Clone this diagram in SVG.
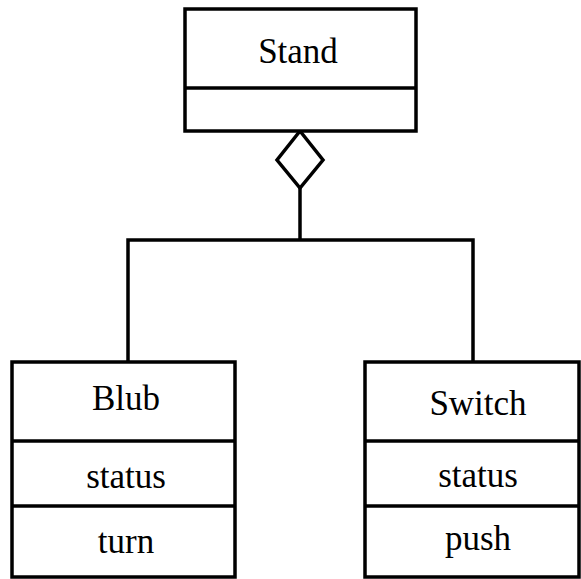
<svg xmlns="http://www.w3.org/2000/svg" width="581" height="579" viewBox="0 0 581 579">
<style>
.box{fill:#fff;stroke:#000;stroke-width:3.5}
.ln{fill:none;stroke:#000;stroke-width:3.5}
.t{font-family:"Liberation Serif","Times New Roman",serif;font-size:35px;fill:#000;text-anchor:middle}
</style>
<rect width="581" height="579" fill="#fff"/>
<g id="connectors">
<polyline class="ln" points="128,362 128,240 473,240 473,362"/>
<line class="ln" x1="300" y1="240" x2="300" y2="188"/>
<polygon class="box" points="300,131 323,160 300,188 277,160"/>
</g>
<g id="Stand">
<rect class="box" x="185" y="9" width="231" height="122"/>
<line class="ln" x1="185" y1="88" x2="416" y2="88"/>
<text class="t" x="298" y="63">Stand</text>
</g>
<g id="Blub">
<rect class="box" x="12" y="362" width="223" height="215"/>
<line class="ln" x1="12" y1="441" x2="235" y2="441"/>
<line class="ln" x1="12" y1="506" x2="235" y2="506"/>
<text class="t" x="126" y="410">Blub</text>
<text class="t" x="126" y="488">status</text>
<text class="t" x="126" y="553">turn</text>
</g>
<g id="Switch">
<rect class="box" x="365" y="362" width="214" height="215"/>
<line class="ln" x1="365" y1="441" x2="579" y2="441"/>
<line class="ln" x1="365" y1="506" x2="579" y2="506"/>
<text class="t" x="478" y="415">Switch</text>
<text class="t" x="478" y="487">status</text>
<text class="t" x="478" y="550">push</text>
</g>
</svg>
